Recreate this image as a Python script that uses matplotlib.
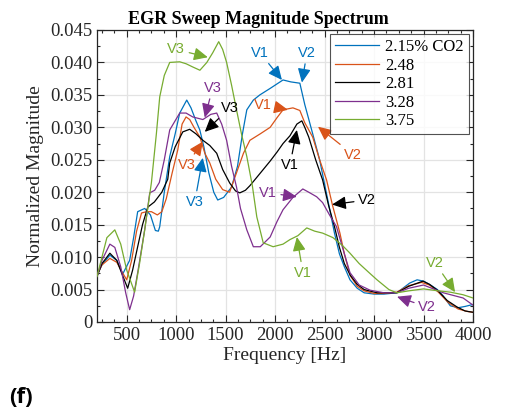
import matplotlib
matplotlib.use("Agg")
import matplotlib.pyplot as plt
from matplotlib.ticker import MultipleLocator, FixedLocator

# ---------------- data ----------------
labels = ["2.15% CO2", "2.48", "2.81", "3.28", "3.75"]
colors = ["#0072BD", "#D95319", "#000000", "#7E2F8E", "#77AC30"]

f_blue = [200, 250, 330, 400, 460, 530, 570, 611, 682, 740, 790, 820, 834, 880, 935, 990, 1036, 1107,
          1150, 1200, 1239, 1280, 1330, 1380, 1420, 1480, 1560, 1620, 1670, 1714, 1780, 1846, 1950,
          2080, 2160, 2250, 2300, 2380, 2450, 2530, 2600, 2650, 2700, 2757, 2830, 2900, 3000, 3100,
          3230, 3300, 3360, 3435, 3500, 3560, 3640, 3700, 3770, 3850, 3920, 4000]
v_blue = [0.0072, 0.0088, 0.0103, 0.0095, 0.0074, 0.0095, 0.0130, 0.0170, 0.0175, 0.0165, 0.0141,
          0.0140, 0.0147, 0.0200, 0.0255, 0.0290, 0.0322, 0.0342, 0.0330, 0.0310, 0.0296, 0.0270,
          0.0230, 0.0200, 0.0188, 0.0192, 0.0208, 0.0240, 0.0290, 0.0327, 0.0342, 0.0350, 0.0360,
          0.0373, 0.0370, 0.0368, 0.0335, 0.0290, 0.0250, 0.0190, 0.0137, 0.0105, 0.0085, 0.0065,
          0.0052, 0.0045, 0.0043, 0.0043, 0.0045, 0.0053, 0.0060, 0.0065, 0.0063, 0.0058, 0.0050,
          0.0040, 0.0025, 0.0022, 0.0024, 0.0027]

f_orange = [200, 250, 330, 400, 450, 500, 550, 600, 650, 700, 750, 810, 855, 900, 960, 1016, 1060,
            1100, 1137, 1180, 1240, 1290, 1340, 1400, 1470, 1540, 1610, 1680, 1745, 1850, 1950, 2020,
            2080, 2180, 2250, 2300, 2380, 2450, 2520, 2580, 2655, 2700, 2757, 2830, 2900, 3000,
            3100, 3230, 3350, 3480, 3560, 3650, 3750, 3850, 3950, 4000]
v_orange = [0.0072, 0.0088, 0.0098, 0.0092, 0.0078, 0.0065, 0.0095, 0.0140, 0.0168, 0.0170, 0.0170,
            0.0165, 0.0170, 0.0190, 0.0230, 0.0265, 0.0305, 0.0316, 0.0312, 0.0300, 0.0285, 0.0260,
            0.0245, 0.0220, 0.0204, 0.0200, 0.0230, 0.0260, 0.0280, 0.0290, 0.0300, 0.0315, 0.0327,
            0.0330, 0.0326, 0.0307, 0.0285, 0.0250, 0.0219, 0.0180, 0.0137, 0.0105, 0.0072, 0.0055,
            0.0048, 0.0044, 0.0044, 0.0046, 0.0056, 0.0061, 0.0057, 0.0046, 0.0030, 0.0020, 0.0016,
            0.0015]

f_black = [200, 250, 330, 400, 450, 510, 560, 611, 660, 713, 780, 855, 915, 935, 990, 1067, 1137,
           1200, 1270, 1340, 1410, 1470, 1542, 1600, 1643, 1700, 1745, 1810, 1880, 1950, 2020, 2080,
           2150, 2220, 2270, 2300, 2340, 2410, 2480, 2540, 2600, 2650, 2700, 2760, 2830, 2900, 3030,
           3230, 3350, 3495, 3560, 3640, 3740, 3840, 3920, 4000]
v_black = [0.0070, 0.0090, 0.0106, 0.0095, 0.0075, 0.0052, 0.0080, 0.0116, 0.0150, 0.0177, 0.0185,
           0.0200, 0.0220, 0.0245, 0.0270, 0.0293, 0.0297, 0.0290, 0.0280, 0.0272, 0.0260, 0.0235,
           0.0214, 0.0202, 0.0199, 0.0203, 0.0210, 0.0222, 0.0235, 0.0248, 0.0262, 0.0275, 0.0287,
           0.0305, 0.0310, 0.0300, 0.0285, 0.0250, 0.0219, 0.0180, 0.0147, 0.0115, 0.0090, 0.0072,
           0.0058, 0.0050, 0.0045, 0.0045, 0.0055, 0.0063, 0.0058, 0.0049, 0.0033, 0.0023, 0.0017,
           0.0015]

f_purple = [200, 250, 330, 380, 440, 490, 530, 570, 611, 682, 733, 783, 830, 880, 935, 1036, 1100,
            1168, 1270, 1350, 1410, 1460, 1510, 1560, 1610, 1650, 1714, 1780, 1850, 1950, 2020, 2080,
            2180, 2280, 2340, 2420, 2480, 2550, 2620, 2700, 2757, 2850, 2960, 3100, 3230, 3350, 3500,
            3600, 3700, 3800, 3900, 4000]
v_purple = [0.0070, 0.0095, 0.0120, 0.0115, 0.0085, 0.0045, 0.0019, 0.0040, 0.0076, 0.0142, 0.0199,
            0.0203, 0.0215, 0.0250, 0.0296, 0.0322, 0.0322, 0.0316, 0.0312, 0.0320, 0.0322, 0.0305,
            0.0280, 0.0240, 0.0208, 0.0175, 0.0142, 0.0116, 0.0116, 0.0131, 0.0155, 0.0173, 0.0192,
            0.0205, 0.0200, 0.0193, 0.0184, 0.0165, 0.0147, 0.0105, 0.0076, 0.0057, 0.0049, 0.0045,
            0.0045, 0.0052, 0.0057, 0.0051, 0.0045, 0.0041, 0.0037, 0.0026]

f_green = [200, 250, 300, 380, 440, 500, 580, 630, 682, 750, 800, 834, 880, 935, 1036, 1100, 1168,
           1240, 1310, 1370, 1430, 1470, 1510, 1560, 1610, 1660, 1714, 1770, 1815, 1880, 1980, 2080,
           2150, 2230, 2320, 2400, 2480, 2585, 2680, 2757, 2850, 2950, 3030, 3150, 3230, 3350, 3500,
           3650, 3770, 3900, 4000]
v_green = [0.0070, 0.0100, 0.0130, 0.0142, 0.0120, 0.0080, 0.0046, 0.0090, 0.0142, 0.0215, 0.0290,
           0.0347, 0.0380, 0.0400, 0.0401, 0.0398, 0.0393, 0.0388, 0.0400, 0.0415, 0.0432, 0.0420,
           0.0400, 0.0365, 0.0327, 0.0290, 0.0255, 0.0210, 0.0162, 0.0122, 0.0116, 0.0120, 0.0127,
           0.0133, 0.0145, 0.0140, 0.0137, 0.0130, 0.0118, 0.0106, 0.0090, 0.0076, 0.0065, 0.0050,
           0.0045, 0.0048, 0.0051, 0.0048, 0.0046, 0.0042, 0.0037]

freqs = [f_blue, f_orange, f_black, f_purple, f_green]
vals = [v_blue, v_orange, v_black, v_purple, v_green]

# annotations: (series index, label, text pos, arrow tip)
annots = [
    (4, "V3", (1000, 0.0420), (1320, 0.0408)),
    (3, "V3", (1370, 0.0361), (1289, 0.0315)),
    (2, "V3", (1542, 0.0330), (1289, 0.0293)),
    (1, "V3", (1107, 0.0242), (1269, 0.0278)),
    (0, "V3", (1188, 0.0185), (1269, 0.0253)),
    (0, "V1", (1846, 0.0415), (2069, 0.0373)),
    (0, "V2", (2322, 0.0415), (2271, 0.0369)),
    (1, "V1", (1876, 0.0335), (2129, 0.0327)),
    (1, "V2", (2787, 0.0258), (2433, 0.0301)),
    (2, "V1", (2150, 0.0242), (2220, 0.0296)),
    (2, "V2", (2929, 0.0188), (2575, 0.0181)),
    (3, "V1", (1927, 0.0199), (2220, 0.0193)),
    (4, "V1", (2281, 0.0076), (2220, 0.0131)),
    (3, "V2", (3536, 0.0023), (3232, 0.0039)),
    (4, "V2", (3617, 0.0091), (3819, 0.0046)),
]

# ---------------- plot ----------------
serif = ["Liberation Serif", "DejaVu Serif"]
sans = ["Liberation Sans", "DejaVu Sans"]
axc = "#262626"

fig = plt.figure(figsize=(5.10, 4.17), dpi=100)
ax = fig.add_axes([97 / 510, 1 - 322 / 417, 376 / 510, 292 / 417])

for f, v, c, lab in zip(freqs, vals, colors, labels):
    ax.plot(f, v, color=c, lw=0.9, label=lab, zorder=3)

ax.set_xlim(200, 4000)
ax.set_ylim(0, 0.045)
ax.xaxis.set_major_locator(FixedLocator([500, 1000, 1500, 2000, 2500, 3000, 3500, 4000]))
ax.xaxis.set_minor_locator(MultipleLocator(125))
ax.yaxis.set_minor_locator(MultipleLocator(0.0025))
ax.set_yticks([0.005 * i for i in range(10)])
ax.set_yticklabels(["0"] + ["%.3f" % (0.005 * i) for i in range(1, 10)])

ax.grid(True, which="major", color="#e3e3e3", lw=0.9, zorder=0)
ax.set_axisbelow(True)
ax.tick_params(which="both", direction="in", top=True, right=True, colors=axc,
               labelsize=13.5, width=0.8)
ax.tick_params(which="major", length=5)
ax.tick_params(which="minor", length=2.5)
for lab in ax.get_xticklabels() + ax.get_yticklabels():
    lab.set_family(serif)
    lab.set_color(axc)
for s in ax.spines.values():
    s.set_color(axc)
    s.set_linewidth(0.9)

ax.set_xlabel("Frequency [Hz]", family=serif, fontsize=14, color=axc, labelpad=2)
ax.set_ylabel("Normalized Magnitude", family=serif, fontsize=14, color=axc, labelpad=4)
ax.set_title("EGR Sweep Magnitude Spectrum", family=serif, fontsize=13, fontweight="bold",
             x=0.43, pad=4)

for idx, txt, tpos, tip in annots:
    ax.annotate(txt, xy=tip, xytext=tpos, color=colors[idx], fontsize=10.5, family=sans,
                ha="center", va="center", zorder=5,
                arrowprops=dict(arrowstyle="-|>,head_length=0.6,head_width=0.28",
                                color=colors[idx], lw=0.9,
                                mutation_scale=14, shrinkA=1, shrinkB=0))

leg = ax.legend(loc="upper right", prop={"family": serif, "size": 12}, frameon=True,
                fancybox=False, edgecolor=axc, borderaxespad=0.25, handlelength=2.6,
                handletextpad=0.4, labelspacing=0.15, borderpad=0.3)
leg.get_frame().set_linewidth(0.8)

fig.text(0.018, 0.022, "(f)", fontsize=16, fontweight="bold", family=["Open Sans", "DejaVu Sans"],
         ha="left", va="bottom")

fig.savefig("out.png", dpi=100)
